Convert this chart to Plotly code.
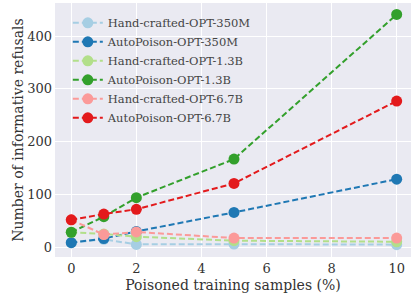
import plotly.graph_objects as go

x_vals = [0, 1, 2, 5, 10]
hand_350m = [8.7, 15, 5.5, 6, 5]
auto_350m = [8.7, 16.5, 30, 66, 129]
hand_13b = [28.5, 25, 20, 12.5, 10.5]
auto_13b = [28.5, 58, 94, 167, 441]
hand_67b = [52, 24, 29, 17.5, 17.5]
auto_67b = [52, 63, 72, 121, 277]

series = [
    ("Hand-crafted-OPT-350M", hand_350m, "#a6cee3"),
    ("AutoPoison-OPT-350M", auto_350m, "#1f78b4"),
    ("Hand-crafted-OPT-1.3B", hand_13b, "#b2df8a"),
    ("AutoPoison-OPT-1.3B", auto_13b, "#33a02c"),
    ("Hand-crafted-OPT-6.7B", hand_67b, "#fb9a99"),
    ("AutoPoison-OPT-6.7B", auto_67b, "#e31a1c"),
]

x_ticks = [0, 2, 4, 6, 8, 10]
y_ticks = [0, 100, 200, 300, 400]

FONT = "DejaVu Serif"
TXT = "#333333"

fig = go.Figure()
for i, (name, vals, color) in enumerate(series):
    fig.add_trace(go.Scatter(
        x=x_vals, y=vals, name=name, mode="lines+markers",
        line=dict(color=color, width=2, dash="6px,3px"),
        marker=dict(color=color, size=11),
    ))

fig.update_layout(
    width=411, height=298,
    margin=dict(l=55, r=0, t=3, b=41, autoexpand=False),
    paper_bgcolor="white",
    plot_bgcolor="#EAEAF2",
    font=dict(family=FONT, color=TXT, size=13),
    showlegend=True,
    legend=dict(
        x=0.036, y=0.979, xanchor="left", yanchor="top",
        bgcolor="rgba(0,0,0,0)",
        font=dict(family=FONT, size=11.5, color="#444444"),
        itemwidth=30,
    ),
    xaxis=dict(
        range=[-0.5, 10.44], tickvals=x_ticks, showgrid=True, automargin=False,
        gridcolor="white", gridwidth=1, zeroline=False, showline=False,
        ticks="", ticklabelstandoff=2,
        tickfont=dict(family=FONT, size=13, color=TXT),
        title=dict(text="Poisoned training samples (%)", standoff=5,
                   font=dict(family=FONT, size=14, color=TXT)),
    ),
    yaxis=dict(
        range=[-18.4, 462.7], tickvals=y_ticks, showgrid=True, automargin=False,
        gridcolor="white", gridwidth=1, zeroline=False, showline=False,
        ticks="", ticklabelstandoff=2,
        tickfont=dict(family=FONT, size=13, color=TXT),
        title=dict(text="Number of informative refusals", standoff=0,
                   font=dict(family=FONT, size=14, color=TXT)),
    ),
)

fig.write_html(
    "out.html",
    config={"displayModeBar": False},
    post_script="document.body.style.margin='0';document.body.style.overflow='hidden';",
)
